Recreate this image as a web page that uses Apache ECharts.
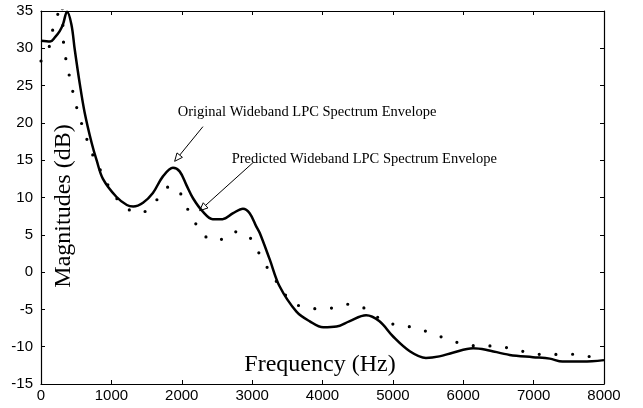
<!DOCTYPE html>
<html>
<head>
<meta charset="utf-8">
<script src="https://cdn.jsdelivr.net/npm/echarts@6/dist/echarts.min.js"></script>
<style>
  html, body { margin: 0; padding: 0; background: #fff; }
  #c1 { width: 643px; height: 408px; }
</style>
</head>
<body>
<div id="c1"></div>
<script>
// original wideband LPC envelope (solid)
var origFreq = [0, 130, 200, 266, 312, 370, 432, 480, 550, 620, 720, 790, 880, 1070, 1220, 1310, 1450, 1590, 1730, 1875, 1970, 2065, 2160, 2300, 2440, 2580, 2730, 2870, 2965, 3060, 3110, 3250, 3390, 3630, 3820, 4010, 4200, 4380, 4620, 4810, 5000, 5240, 5470, 5660, 5850, 6140, 6320, 6660, 6990, 7230, 7410, 7700, 8000];
var origMag = [31.0, 30.9, 31.5, 32.3, 33.2, 34.9, 33.2, 29.8, 25.3, 21.4, 17.3, 15.0, 12.5, 10.1, 9.0, 8.8, 9.3, 10.6, 12.8, 14.0, 13.5, 11.7, 9.9, 8.1, 7.1, 7.1, 7.9, 8.5, 7.9, 6.1, 5.2, 1.7, -1.9, -5.3, -6.6, -7.4, -7.3, -6.6, -5.8, -6.6, -8.6, -10.6, -11.5, -11.3, -10.8, -10.2, -10.4, -11.1, -11.4, -11.6, -12.0, -12.0, -11.8];

// predicted wideband LPC envelope (dotted)
var predFreq = [0, 120, 170, 240, 290, 327, 375, 422, 479, 540, 621, 692, 801, 900, 1000, 1100, 1203, 1300, 1412, 1520, 1615, 1757, 1850, 1946, 2055, 2166, 2301, 2400, 2514, 2620, 2727, 2850, 2955, 3082, 3202, 3334, 3476, 3665, 3912, 4148, 4385, 4612, 4811, 5048, 5284, 5521, 5749, 5986, 6222, 6459, 6696, 6942, 7179, 7425, 7676, 7912, 8000];
var predMag = [28.3, 30.3, 32.6, 34.6, 36.0, 29.9, 27.7, 25.4, 23.2, 20.9, 18.8, 16.6, 14.5, 12.6, 10.9, 9.6, 8.7, 8.1, 7.9, 8.4, 9.3, 11.1, 11.5, 11.1, 9.0, 7.0, 5.1, 4.4, 4.2, 4.8, 5.4, 5.3, 4.8, 2.8, 0.8, -1.1, -3.1, -4.5, -4.9, -4.8, -4.3, -4.9, -6.2, -7.1, -7.4, -8.1, -8.9, -9.6, -9.9, -9.9, -10.3, -10.8, -11.1, -11.0, -11.1, -11.6, -11.7];

var origLabel = "Original Wideband LPC Spectrum Envelope";
var predLabel = "Predicted Wideband LPC Spectrum Envelope";

function pairs(xs, ys) {
  var res = [];
  for (var i = 0; i < xs.length; i++) res.push([xs[i], ys[i]]);
  return res;
}

var chart = echarts.init(document.getElementById("c1"));

var axisLineStyle = { color: "#000", width: 1.2 };
var tickStyle = { show: true, inside: true, length: 4, lineStyle: { color: "#000", width: 1 } };
var labelFont = { color: "#000", fontSize: 15, fontFamily: "Liberation Sans", formatter: function (v) { return String(v); } };

var option = {
  animation: false,
  backgroundColor: "#fff",
  grid: { left: 41, right: 39, top: 11, bottom: 24, containLabel: false },
  xAxis: [
    {
      type: "value", min: 0, max: 8000, interval: 1000,
      axisLine: { show: true, onZero: false, lineStyle: axisLineStyle },
      axisTick: tickStyle,
      axisLabel: Object.assign({ margin: 4 }, labelFont),
      splitLine: { show: false },
    },
    {
      type: "value", position: "top", min: 0, max: 8000, interval: 1000,
      axisLine: { show: true, onZero: false, lineStyle: axisLineStyle },
      axisTick: tickStyle,
      axisLabel: { show: false },
      splitLine: { show: false },
    },
  ],
  yAxis: [
    {
      type: "value", min: -15, max: 35, interval: 5,
      axisLine: { show: true, onZero: false, lineStyle: axisLineStyle },
      axisTick: tickStyle,
      axisLabel: Object.assign({ margin: 8 }, labelFont),
      splitLine: { show: false },
    },
    {
      type: "value", position: "right", min: -15, max: 35, interval: 5,
      axisLine: { show: true, onZero: false, lineStyle: axisLineStyle },
      axisTick: tickStyle,
      axisLabel: { show: false },
      splitLine: { show: false },
    },
  ],
  series: [
    {
      name: "original",
      type: "line",
      data: pairs(origFreq, origMag),
      smooth: 0.35,
      symbol: "none",
      clip: true,
      lineStyle: { color: "#000", width: 2.5 },
    },
    {
      name: "predicted",
      type: "line",
      data: pairs(predFreq, predMag),
      smooth: 0.35,
      symbol: "none",
      clip: true,
      lineStyle: { color: "#000", width: 3.2, type: [0, 16.7], cap: "round" },
    },
  ],
};
chart.setOption(option);

// annotations, anchored in data coordinates
function px(p) { return chart.convertToPixel({ seriesIndex: 0 }, p); }

function arrow(from, to) {
  var a = px(from), t = px(to);
  var dx = t[0] - a[0], dy = t[1] - a[1];
  var len = Math.sqrt(dx * dx + dy * dy);
  dx /= len; dy /= len;
  var hl = 8, hw = 3.5;
  var bx = t[0] - dx * hl, by = t[1] - dy * hl;
  return [
    { type: "line", shape: { x1: a[0], y1: a[1], x2: bx, y2: by }, style: { stroke: "#000", lineWidth: 1 } },
    {
      type: "polygon",
      shape: { points: [[t[0], t[1]], [bx - dy * hw, by + dx * hw], [bx + dy * hw, by - dx * hw]] },
      style: { fill: "#fff", stroke: "#000", lineWidth: 1 },
    },
  ];
}

function note(at, text) {
  var p = px(at);
  return {
    type: "text", x: p[0], y: p[1],
    style: { text: text, fill: "#000", font: "14.5px 'Liberation Serif'", textAlign: "left", textVerticalAlign: "middle" },
  };
}

var graphics = [];
graphics.push(note([1943, 21.5], origLabel));
graphics.push(note([2709, 15.2], predLabel));
graphics = graphics.concat(arrow([2301, 19.5], [1899, 14.85]));
graphics = graphics.concat(arrow([3011, 14.66], [2254, 8.23]));
graphics.push({
  type: "text", x: 64, y: 206, rotation: Math.PI / 2,
  style: { text: "Magnitudes (dB)", fill: "#000", font: "24px 'Liberation Serif'", textAlign: "center", textVerticalAlign: "middle" },
});
graphics.push({
  type: "text", x: 320, y: 365,
  style: { text: "Frequency (Hz)", fill: "#000", font: "24px 'Liberation Serif'", textAlign: "center", textVerticalAlign: "middle" },
});

chart.setOption({ graphic: graphics });
</script>
</body>
</html>
